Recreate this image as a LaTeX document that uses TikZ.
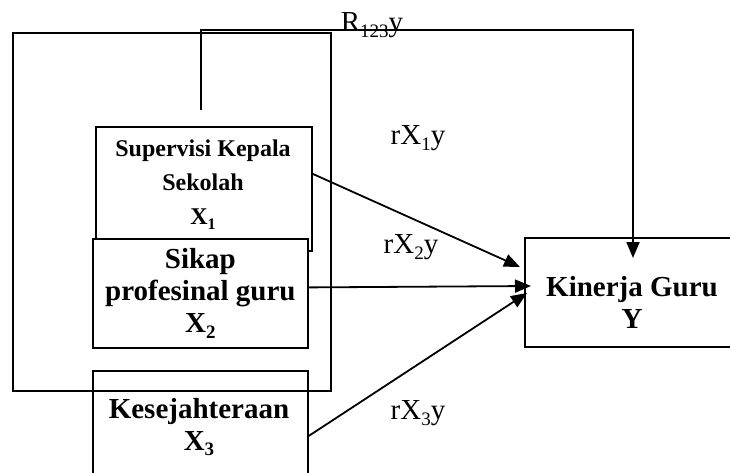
\documentclass[tikz,border=0pt]{standalone}
\usepackage{fontspec}
\setmainfont{Liberation Serif}
\usetikzlibrary{arrows.meta}
\newcommand\mysub[2]{\raisebox{-0.2em}{\fontsize{#1}{#1}\selectfont #2}}
\begin{document}
\begin{tikzpicture}[x=1pt,y=-1pt, line width=1.8pt,
  box/.style={draw, inner sep=0pt, anchor=north west},
  big/.style={font=\bfseries\fontsize{29}{32}\selectfont, align=center, inner sep=0pt},
  small/.style={font=\bfseries\fontsize{24}{34}\selectfont, align=center, inner sep=0pt},
  lab/.style={font=\fontsize{29}{30}\selectfont, inner sep=0pt},
  arr/.style={-{Triangle[length=16pt,width=13pt]}}]
\useasboundingbox (0,0) rectangle (730,472);
\clip (0,0) rectangle (730,472);
% boxes
\node[box, minimum width=216pt, minimum height=124pt] (x1) at (95,126) {};
\node[box, fill=white, minimum width=215pt, minimum height=109pt] (x2) at (92,238) {};
\node[box, fill=white, minimum width=215pt, minimum height=130pt] (x3) at (92,370) {};
\node[box, minimum width=318pt, minimum height=358pt] (frame) at (12,32) {};
\node[box, minimum width=230pt, minimum height=109pt] (y) at (524,237) {};
% texts
\node[small] (x1t) at (203,185) {Supervisi Kepala\\Sekolah\\X\mysub{16}{1}};
\node[big] (x2t) at (x2.center) {Sikap\\profesinal guru\\X\mysub{19}{2}};
\node[big] (x3t) at (199,427) {Kesejahteraan\\X\mysub{19}{3}};
\node[big] (yt) at (632,302) {Kinerja Guru\\Y};
% labels
\node[lab] (lr) at (372,25) {R\mysub{19}{123}y};
\node[lab] (l1) at (418,138) {rX\mysub{19}{1}y};
\node[lab] (l2) at (411,247) {rX\mysub{19}{2}y};
\node[lab] (l3) at (418,413) {rX\mysub{19}{3}y};
% connectors
\coordinate (top) at (201,110);
\coordinate (corner) at (633,30);
\coordinate (yin) at (633,258);
\coordinate (e1) at (520,267);
\coordinate (e2) at (531,286);
\coordinate (e3) at (527,293);
\draw[arr] (top) |- (corner) -- (yin);
\draw[arr] ([yshift=15pt]x1.east) -- (e1);
\draw[arr] ([yshift=6pt]x2.east) -- (e2);
\draw[arr] (x3.east) -- (e3);
\end{tikzpicture}
\end{document}
